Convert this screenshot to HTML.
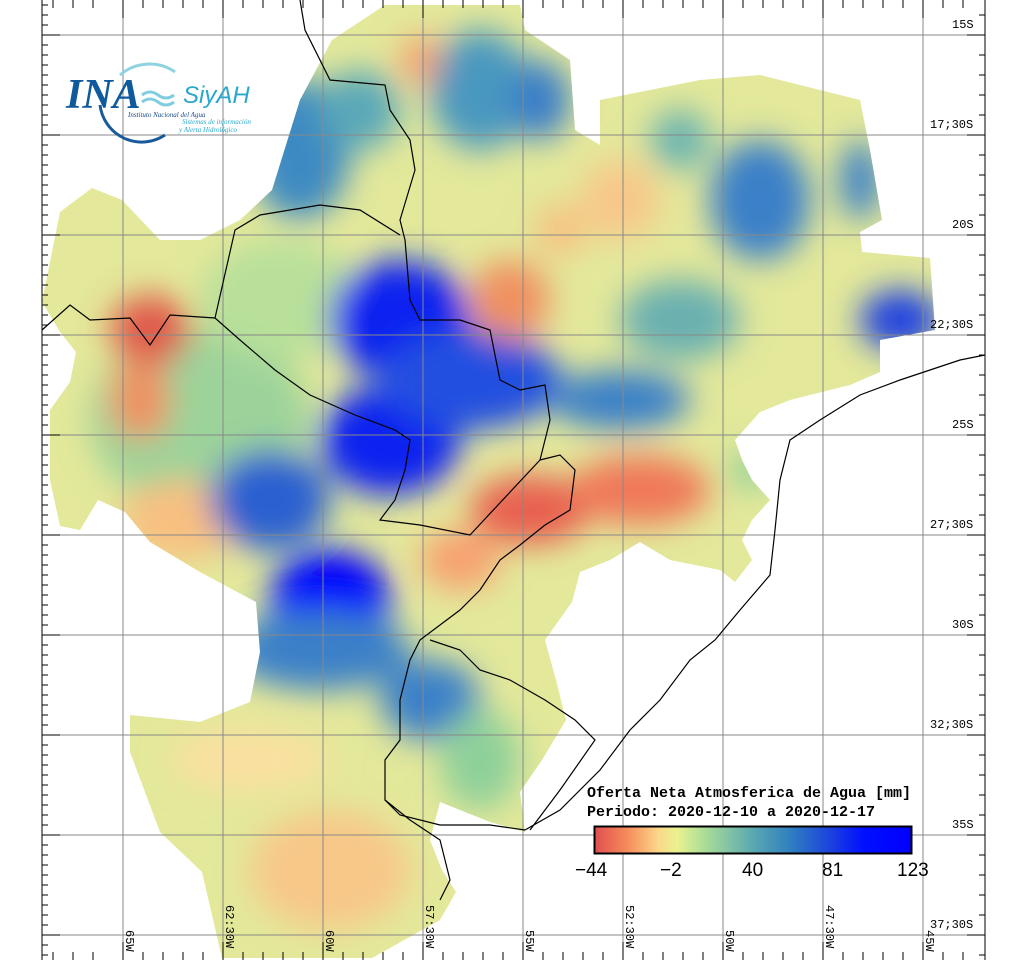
<!DOCTYPE html>
<html><head><meta charset="utf-8"><style>
html,body{margin:0;padding:0;background:#fff;width:1024px;height:960px;overflow:hidden}
svg{display:block}
.m{font-family:"Liberation Mono",monospace}
</style></head><body>
<svg width="1024" height="960" viewBox="0 0 1024 960" xmlns="http://www.w3.org/2000/svg">
<defs>
<clipPath id="land"><path d="M385,5 L520,5 L525,30 L570,60 L575,130 L600,145 L600,100 L700,80 L760,75 L820,90 L860,100 L870,150 L882,220 L860,232 L862,252 L930,258 L935,330 L880,340 L880,372 L850,385 L790,400 L760,412 L735,440 L742,460 L752,480 L770,500 L752,520 L742,540 L752,560 L735,582 L720,570 L670,560 L640,542 L610,560 L580,572 L572,602 L545,640 L556,680 L566,720 L542,760 L520,792 L525,832 L490,822 L440,802 L430,840 L442,870 L456,892 L440,920 L372,958 L222,958 L202,872 L160,832 L130,752 L130,715 L200,722 L250,702 L260,652 L256,602 L200,572 L150,542 L125,512 L98,500 L80,530 L60,526 L50,480 L50,410 L70,382 L76,352 L60,332 L42,302 L60,212 L92,188 L122,200 L160,240 L200,240 L240,220 L272,190 L300,100 L332,40 Z"/></clipPath>
<filter id="bl" x="-20%" y="-20%" width="140%" height="140%"><feGaussianBlur stdDeviation="16"/></filter>
<linearGradient id="cb" x1="0" x2="1">
<stop offset="0" stop-color="#e05050"/><stop offset="0.1" stop-color="#f58a5a"/><stop offset="0.2" stop-color="#fbd78a"/><stop offset="0.26" stop-color="#e9f28f"/><stop offset="0.35" stop-color="#a8dc98"/><stop offset="0.5" stop-color="#5aa8b0"/><stop offset="0.62" stop-color="#2f7fc0"/><stop offset="0.75" stop-color="#1a40e0"/><stop offset="0.85" stop-color="#0010ff"/><stop offset="1" stop-color="#0000ff"/>
</linearGradient>
</defs>
<g clip-path="url(#land)">
<rect x="0" y="0" width="1024" height="960" fill="#e3e89a"/>
<g filter="url(#bl)">
<ellipse cx="200" cy="420" rx="110" ry="90" fill="#9cd39a"/>
<ellipse cx="280" cy="300" rx="80" ry="60" fill="#b8e09a"/>
<ellipse cx="300" cy="150" rx="50" ry="70" fill="#3d8ac2"/>
<ellipse cx="150" cy="330" rx="40" ry="35" fill="#e0584a"/>
<ellipse cx="140" cy="400" rx="30" ry="40" fill="#f09060"/>
<ellipse cx="180" cy="520" rx="60" ry="40" fill="#f8c080"/>
<ellipse cx="400" cy="320" rx="70" ry="60" fill="#0a20f0"/>
<ellipse cx="390" cy="440" rx="70" ry="55" fill="#0a20f0"/>
<ellipse cx="470" cy="380" rx="90" ry="50" fill="#2050e0"/>
<ellipse cx="270" cy="500" rx="60" ry="50" fill="#2a60d0"/>
<ellipse cx="330" cy="600" rx="60" ry="50" fill="#0000ff"/>
<ellipse cx="320" cy="650" rx="90" ry="40" fill="#3a80c8"/>
<ellipse cx="430" cy="700" rx="50" ry="40" fill="#3a80c8"/>
<ellipse cx="480" cy="90" rx="50" ry="60" fill="#4a98c0"/>
<ellipse cx="360" cy="110" rx="40" ry="40" fill="#5aa8b8"/>
<ellipse cx="540" cy="100" rx="30" ry="40" fill="#3a7ec8"/>
<ellipse cx="420" cy="60" rx="20" ry="25" fill="#f4a070"/>
<ellipse cx="760" cy="200" rx="50" ry="60" fill="#3a80c8"/>
<ellipse cx="680" cy="140" rx="30" ry="30" fill="#6ab4b0"/>
<ellipse cx="860" cy="180" rx="20" ry="40" fill="#3a80c8"/>
<ellipse cx="900" cy="320" rx="40" ry="30" fill="#1a40e0"/>
<ellipse cx="680" cy="320" rx="60" ry="40" fill="#6ab0b0"/>
<ellipse cx="620" cy="400" rx="70" ry="30" fill="#3a80c8"/>
<ellipse cx="510" cy="300" rx="40" ry="40" fill="#f09060"/>
<ellipse cx="530" cy="510" rx="60" ry="35" fill="#e86050"/>
<ellipse cx="640" cy="490" rx="70" ry="35" fill="#f07858"/>
<ellipse cx="460" cy="560" rx="40" ry="30" fill="#f8a070"/>
<ellipse cx="620" cy="200" rx="40" ry="40" fill="#f8c888"/>
<ellipse cx="560" cy="230" rx="25" ry="25" fill="#f8c080"/>
<ellipse cx="750" cy="470" rx="20" ry="20" fill="#8ed09a"/>
<ellipse cx="330" cy="870" rx="80" ry="60" fill="#f8c888"/>
<ellipse cx="250" cy="760" rx="80" ry="30" fill="#fbe0a0"/>
<ellipse cx="480" cy="760" rx="40" ry="50" fill="#8ed09a"/>
</g>
</g>
<!-- grid -->
<g stroke="#888" stroke-width="1">
<path d="M42,35H985M42,135H985M42,235H985M42,335H985M42,435H985M42,535H985M42,635H985M42,735H985M42,835H985M42,935H985"/>
<path d="M123,0V955M223,0V955M323,0V955M423,0V955M523,0V955M623,0V955M723,0V955M823,0V955M923,0V955"/>
</g>
<!-- borders -->
<g fill="none" stroke="#000" stroke-width="1.2">
<path d="M300,0 L305,30 L330,80 L385,85 L390,110 L410,140 L415,170 L400,220 L405,240 L410,300 L420,320 L460,320 L490,330 L500,380 L520,390 L545,385 L550,420 L540,460 L560,455 L575,470 L570,510 L545,525 L520,545 L500,560 L480,590 L460,610 L440,625 L420,640 L410,660 L400,700 L400,740 L385,760 L385,800 L400,815 L440,825 L490,825 L525,830"/>
<path d="M42,330 L70,305 L90,320 L130,318 L150,345 L170,315 L215,318 L240,340 L275,370 L310,395 L355,415 L395,430 L410,440 L405,470 L395,500 L380,520 L420,525 L470,535 L540,460"/>
<path d="M215,318 L235,230 L260,215 L320,205 L360,210 L400,235"/>
<path d="M430,640 L460,650 L480,670 L510,680 L545,700 L575,720 L595,740 L560,790 L530,830"/>
<path d="M985,355 L960,360 L930,370 L900,380 L860,395 L820,420 L790,440 L780,480 L775,530 L770,575 L740,610 L715,640 L690,660 L660,700 L630,730 L600,770 L560,810 L525,830"/>
<path d="M385,800 L410,820 L440,840 L450,880 L440,900"/>
</g>
<!-- frame ticks -->
<g stroke="#000" stroke-width="1">
<path d="M42,0V960M985,0V960"/>
<path d="M42,35h18M42,135h18M42,235h18M42,335h18M42,435h18M42,535h18M42,635h18M42,735h18M42,835h18M42,935h18"/>
<path d="M985,35h-18M985,135h-18M985,235h-18M985,335h-18M985,435h-18M985,535h-18M985,635h-18M985,735h-18M985,835h-18M985,935h-18"/>
<path d="M123,0v18M223,0v18M323,0v18M423,0v18M523,0v18M623,0v18M723,0v18M823,0v18M923,0v18"/>
<path d="M123,960v-18M223,960v-18M323,960v-18M423,960v-18M523,960v-18M623,960v-18M723,960v-18M823,960v-18M923,960v-18"/>
<path d="M42,5h6M42,15h6M42,25h6M42,45h6M42,55h6M42,65h6M42,75h6M42,85h6M42,95h6M42,105h6M42,115h6M42,125h6M42,145h6M42,155h6M42,165h6M42,175h6M42,185h6M42,195h6M42,205h6M42,215h6M42,225h6M42,245h6M42,255h6M42,265h6M42,275h6M42,285h6M42,295h6M42,305h6M42,315h6M42,325h6M42,345h6M42,355h6M42,365h6M42,375h6M42,385h6M42,395h6M42,405h6M42,415h6M42,425h6M42,445h6M42,455h6M42,465h6M42,475h6M42,485h6M42,495h6M42,505h6M42,515h6M42,525h6M42,545h6M42,555h6M42,565h6M42,575h6M42,585h6M42,595h6M42,605h6M42,615h6M42,625h6M42,645h6M42,655h6M42,665h6M42,675h6M42,685h6M42,695h6M42,705h6M42,715h6M42,725h6M42,745h6M42,755h6M42,765h6M42,775h6M42,785h6M42,795h6M42,805h6M42,815h6M42,825h6M42,845h6M42,855h6M42,865h6M42,875h6M42,885h6M42,895h6M42,905h6M42,915h6M42,925h6M42,945h6M42,955h6"/>
<path d="M985,15h-6M985,55h-6M985,75h-6M985,95h-6M985,115h-6M985,155h-6M985,175h-6M985,195h-6M985,215h-6M985,255h-6M985,275h-6M985,295h-6M985,315h-6M985,355h-6M985,375h-6M985,395h-6M985,415h-6M985,455h-6M985,475h-6M985,495h-6M985,515h-6M985,555h-6M985,575h-6M985,595h-6M985,615h-6M985,655h-6M985,675h-6M985,695h-6M985,715h-6M985,755h-6M985,775h-6M985,795h-6M985,815h-6M985,855h-6M985,875h-6M985,895h-6M985,915h-6M985,955h-6"/>
<path d="M53,0v8M73,0v8M93,0v8M143,0v8M163,0v8M183,0v8M203,0v8M243,0v8M263,0v8M283,0v8M303,0v8M343,0v8M363,0v8M383,0v8M403,0v8M443,0v8M463,0v8M483,0v8M503,0v8M543,0v8M563,0v8M583,0v8M603,0v8M643,0v8M663,0v8M683,0v8M703,0v8M743,0v8M763,0v8M783,0v8M803,0v8M843,0v8M863,0v8M883,0v8M903,0v8M943,0v8M963,0v8"/>
<path d="M53,960v-8M73,960v-8M93,960v-8M143,960v-8M163,960v-8M183,960v-8M203,960v-8M243,960v-8M263,960v-8M283,960v-8M303,960v-8M343,960v-8M363,960v-8M383,960v-8M403,960v-8M443,960v-8M463,960v-8M483,960v-8M503,960v-8M543,960v-8M563,960v-8M583,960v-8M603,960v-8M643,960v-8M663,960v-8M683,960v-8M703,960v-8M743,960v-8M763,960v-8M783,960v-8M803,960v-8M843,960v-8M863,960v-8M883,960v-8M903,960v-8M943,960v-8M963,960v-8"/>
</g>
<g fill="#000" font-size="12" class="m">
<text x="952" y="28">15S</text><text x="930" y="128">17;30S</text><text x="952" y="228">20S</text><text x="930" y="328">22;30S</text><text x="952" y="428">25S</text><text x="930" y="528">27;30S</text><text x="952" y="628">30S</text><text x="930" y="728">32;30S</text><text x="952" y="828">35S</text><text x="930" y="928">37;30S</text>
<g transform="rotate(90)">
<text x="930" y="-126">65W</text><text x="905" y="-226">62:30W</text><text x="930" y="-326">60W</text><text x="905" y="-426">57:30W</text><text x="930" y="-526">55W</text><text x="905" y="-626">52:30W</text><text x="930" y="-726">50W</text><text x="905" y="-826">47:30W</text><text x="930" y="-926">45W</text>
</g>
</g>
<!-- legend -->
<text class="m" x="587" y="797" font-size="15" font-weight="bold">Oferta Neta Atmosferica de Agua [mm]</text>
<text class="m" x="587" y="816" font-size="15" font-weight="bold">Periodo: 2020-12-10 a 2020-12-17</text>
<rect x="594" y="826" width="318" height="28" fill="#fff" stroke="#000"/>
<rect x="595" y="827" width="316" height="26" fill="url(#cb)" stroke="#000" stroke-width="1"/>
<g style="font-family:'Liberation Sans',sans-serif" font-size="19" fill="#000">
<text x="575" y="876">−44</text><text x="660" y="876">−2</text><text x="742" y="876">40</text><text x="822" y="876">81</text><text x="897" y="876">123</text>
</g>
<!-- logo -->
<path d="M120,75 A45,45 0 0 1 175,72" fill="none" stroke="#8fd3e0" stroke-width="3"/>
<path d="M100,105 A42,42 0 0 0 165,135" fill="none" stroke="#1a5a9a" stroke-width="3"/>
<text x="66" y="108" style="font-family:'Liberation Serif',serif" font-style="italic" font-weight="bold" font-size="42" fill="#0f5a9c">INA</text>
<path d="M142,95 q8,-6 16,0 t16,0 M142,102 q8,-6 16,0 t16,0" fill="none" stroke="#7fcde0" stroke-width="3"/>
<text x="183" y="103" style="font-family:'Liberation Sans',sans-serif" font-style="italic" font-size="24" fill="#2aa8cc">SiyAH</text>
<text x="128" y="117" style="font-family:'Liberation Serif',serif" font-style="italic" font-size="7" fill="#1a4a8a">Instituto Nacional del Agua</text>
<text x="182" y="124" style="font-family:'Liberation Serif',serif" font-style="italic" font-size="7" fill="#2aa8cc">Sistemas de información</text>
<text x="179" y="132" style="font-family:'Liberation Serif',serif" font-style="italic" font-size="7" fill="#2aa8cc">y Alerta Hidrológico</text>
</svg>
</body></html>
